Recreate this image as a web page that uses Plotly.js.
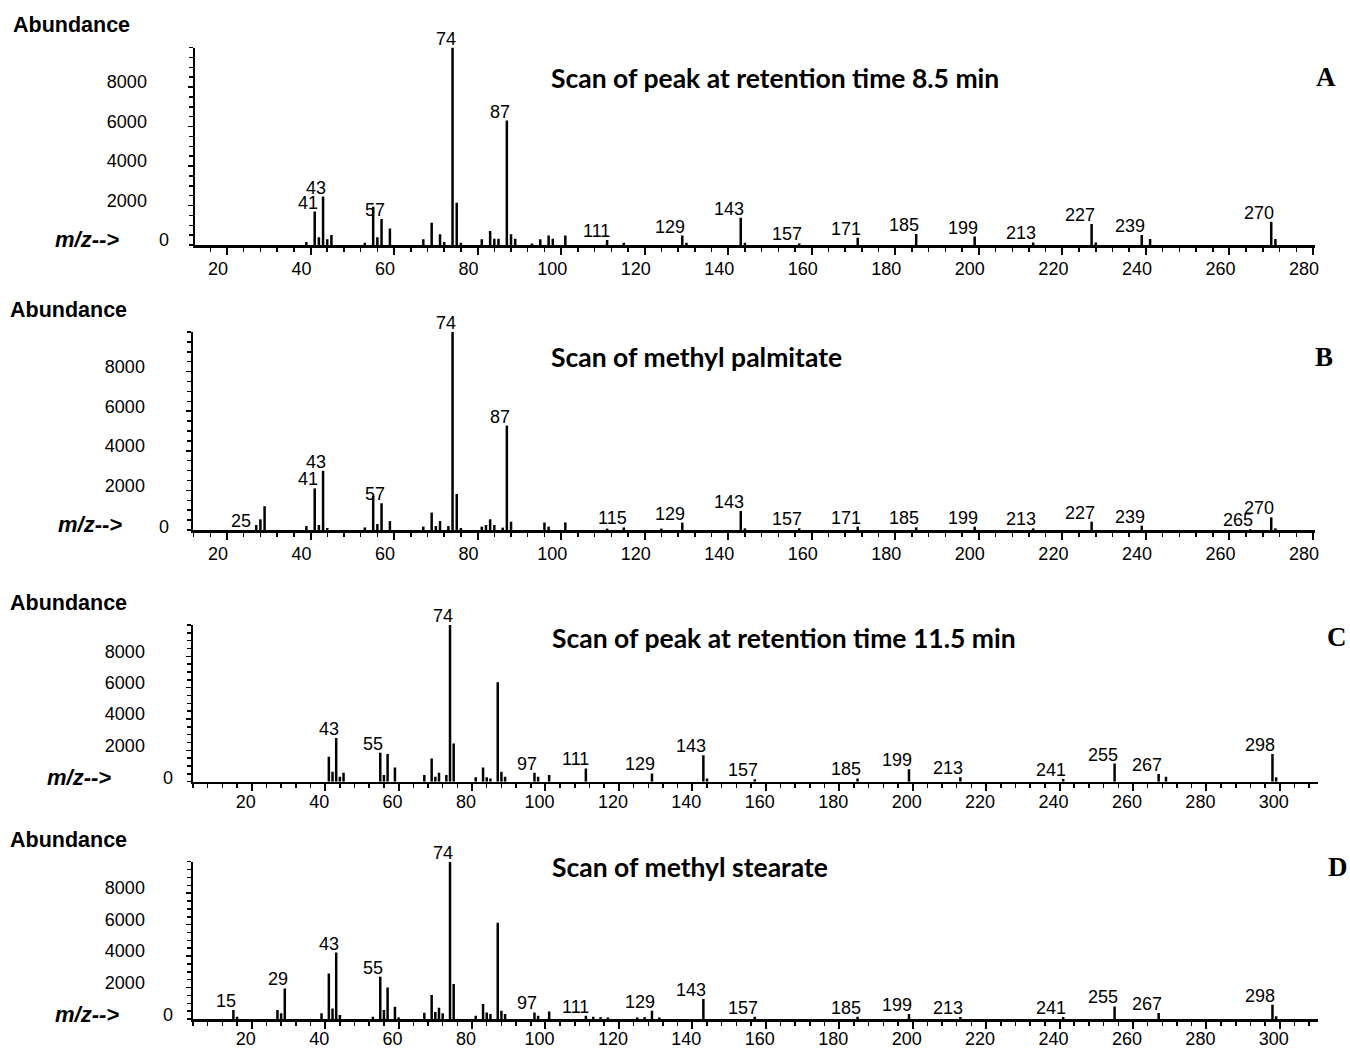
<!DOCTYPE html>
<html>
<head>
<meta charset="utf-8">
<script src="https://cdn.plot.ly/plotly-3.0.1.min.js"></script>
<style>
  html, body { margin: 0; padding: 0; background: #fff; }
  #chart { width: 1350px; height: 1048px; }
</style>
</head>
<body>
<div id="chart"></div>
<script>
// ---------------- DATA ----------------
// Panel A: scan of peak at retention time 8.5 min
const mzA = [39, 41, 42, 43, 44, 45, 53, 55, 56, 57, 59, 67, 69, 71, 72, 74, 75, 76, 81, 83, 84, 85, 87, 88, 89, 93, 95, 97, 98, 101, 111, 115, 129, 130, 143, 144, 157, 171, 185, 199, 213, 227, 228, 239, 241, 270, 271];
const abA = [150, 1690, 390, 2450, 290, 510, 120, 1940, 390, 1315, 840, 290, 1130, 540, 150, 10000, 2140, 120, 290, 710, 320, 320, 6300, 540, 320, 80, 290, 480, 320, 480, 250, 120, 480, 120, 1380, 120, 80, 370, 560, 430, 130, 1060, 130, 510, 300, 1180, 300];
const labelsA = [41, 43, 57, 74, 87, 111, 129, 143, 157, 171, 185, 199, 213, 227, 239, 270];

// Panel B: scan of methyl palmitate
const mzB = [27, 28, 29, 39, 41, 42, 43, 44, 53, 55, 56, 57, 59, 67, 69, 70, 71, 73, 74, 75, 76, 81, 82, 83, 84, 86, 87, 88, 96, 97, 101, 111, 115, 124, 129, 143, 144, 157, 171, 185, 199, 213, 227, 239, 265, 270, 271];
const abB = [250, 540, 1200, 200, 2100, 250, 2990, 100, 130, 1720, 300, 1350, 450, 170, 880, 200, 450, 200, 10000, 1820, 100, 170, 250, 540, 250, 120, 5270, 420, 380, 170, 380, 70, 130, 70, 370, 960, 85, 85, 170, 135, 170, 85, 420, 220, 40, 640, 85];
const labelsB = [25, 41, 43, 57, 74, 87, 115, 129, 143, 157, 171, 185, 199, 213, 227, 239, 265, 270];

// Panel C: scan of peak at retention time 11.5 min
const mzC = [41, 42, 43, 44, 45, 55, 56, 57, 59, 67, 69, 70, 71, 73, 74, 75, 81, 83, 84, 85, 87, 88, 89, 97, 98, 101, 111, 129, 143, 144, 157, 185, 199, 213, 241, 255, 267, 269, 298, 299];
const abC = [1590, 630, 2790, 320, 570, 1840, 420, 1760, 910, 420, 1480, 320, 570, 420, 10000, 2430, 280, 910, 280, 210, 6350, 630, 320, 570, 320, 420, 850, 530, 1690, 210, 150, 210, 800, 280, 170, 1160, 490, 320, 1760, 280];
const labelsC = [43, 55, 74, 97, 111, 129, 143, 157, 185, 199, 213, 241, 255, 267, 298];

// Panel D: scan of methyl stearate
const mzD = [15, 16, 27, 28, 29, 39, 41, 42, 43, 44, 53, 55, 56, 57, 59, 60, 67, 69, 70, 71, 72, 74, 75, 81, 83, 84, 85, 87, 88, 89, 97, 98, 101, 111, 113, 115, 117, 125, 127, 129, 131, 143, 157, 185, 199, 213, 241, 255, 267, 298, 299];
const abD = [570, 150, 570, 360, 1940, 360, 2890, 670, 4220, 250, 150, 2680, 570, 2000, 780, 100, 400, 1520, 450, 720, 360, 10000, 2220, 210, 950, 420, 320, 6120, 530, 320, 420, 210, 480, 210, 150, 120, 100, 100, 120, 530, 100, 1270, 150, 150, 320, 130, 130, 800, 380, 900, 170];
const labelsD = [15, 29, 43, 55, 74, 97, 111, 129, 143, 157, 185, 199, 213, 241, 255, 267, 298];

const yTickVals = [2000, 4000, 6000, 8000];
const titles = ["Scan of peak at retention time 8.5 min", "Scan of methyl palmitate", "Scan of peak at retention time 11.5 min", "Scan of methyl stearate"];
const letters = ["A", "B", "C", "D"];

// ---------------- LAYOUT GEOMETRY ----------------
const W = 1350, H = 1048;
const px = p => p / W;
const py = p => 1 - p / H;

const panels = [
  { mz: mzA, ab: abA, labels: labelsA, xPx: [195, 1315], xRange: [12.34, 280.48], yPx: [245, 47.5],
    titlePos: [549, 78], letterPos: [1326, 77], abundPos: [11, 25], mzPos: [53, 240], zeroPos: [164, 240], xShift: -9, xStand: -1 },
  { mz: mzB, ab: abB, labels: labelsB, xPx: [193, 1315], xRange: [11.86, 280.48], yPx: [530, 332],
    titlePos: [549, 357], letterPos: [1324, 357], abundPos: [8, 310], mzPos: [56, 524], zeroPos: [164, 527], xShift: -9, xStand: -1 },
  { mz: mzC, ab: abC, labels: labelsC, xPx: [193, 1318], xRange: [4.0, 310.4], yPx: [781.7, 625],
    titlePos: [550, 638], letterPos: [1337, 637], abundPos: [8, 603], mzPos: [45, 777], zeroPos: [168, 778], xShift: -6, xStand: -5 },
  { mz: mzD, ab: abD, labels: labelsD, xPx: [193, 1318], xRange: [4.0, 310.4], yPx: [1019, 861.7],
    titlePos: [550, 867], letterPos: [1338, 867], abundPos: [8, 840], mzPos: [53, 1014], zeroPos: [168, 1015], xShift: -6, xStand: -5 }
];

const sans = "Liberation Sans, Arial, Helvetica, sans-serif";
const data = [];
const annotations = [];
const layout = {
  width: W, height: H,
  margin: { l: 0, r: 0, t: 0, b: 0, pad: 0 },
  paper_bgcolor: "#ffffff", plot_bgcolor: "rgba(0,0,0,0)",
  showlegend: false, hovermode: false,
  font: { family: sans, color: "#000" },
  annotations: annotations
};

panels.forEach((p, i) => {
  const n = i === 0 ? "" : String(i + 1);
  const xa = "x" + n, ya = "y" + n;
  const barW = (p.xRange[1] - p.xRange[0]) > 290 ? 0.68 : 0.6;

  data.push({
    type: "bar", x: p.mz, y: p.ab, xaxis: xa, yaxis: ya,
    width: barW, marker: { color: "#000", line: { width: 0 } }
  });

  layout["xaxis" + n] = {
    domain: [px(p.xPx[0]), px(p.xPx[1])], range: p.xRange, anchor: ya,
    showline: true, linewidth: 2.5, linecolor: "#000", mirror: false,
    ticks: "outside", ticklen: 7, tickwidth: 2, tickcolor: "#000",
    tick0: 0, dtick: 20,
    minor: { dtick: 4, tick0: 0, ticks: "outside", ticklen: 4, tickwidth: 1.5, tickcolor: "#000", showgrid: false },
    showgrid: false, zeroline: false,
    tickfont: { family: sans, size: 18, color: "#000" },
    ticklabelshift: p.xShift, ticklabelstandoff: p.xStand,
    fixedrange: true
  };
  layout["yaxis" + n] = {
    domain: [py(p.yPx[0]), py(p.yPx[1])], range: [0, 10000], anchor: xa,
    showline: true, linewidth: 2.5, linecolor: "#000",
    ticks: "outside", ticklen: 5, tickwidth: 1.5, tickcolor: "#000",
    tickmode: "array", tickvals: yTickVals, ticktext: yTickVals.map(String),
    minor: { dtick: 500, tick0: 0, ticks: "outside", ticklen: 4, tickwidth: 1.5, tickcolor: "#000", showgrid: false },
    showgrid: false, zeroline: false,
    tickfont: { family: sans, size: 18, color: "#000" },
    ticklabelstandoff: 37, ticklabelshift: -5,
    fixedrange: true
  };

  // peak labels
  p.labels.forEach(m => {
    const k = p.mz.indexOf(m);
    const h = k >= 0 ? p.ab[k] : 0;
    annotations.push({
      xref: xa, yref: ya, x: m, y: h, text: String(m),
      xanchor: "right", yanchor: "bottom", xshift: 5, yshift: -3,
      showarrow: false, font: { family: sans, size: 18, color: "#000" }
    });
  });

  // panel texts
  annotations.push({
    xref: "paper", yref: "paper", x: px(p.titlePos[0]), y: py(p.titlePos[1]),
    xanchor: "left", yanchor: "middle", showarrow: false, text: titles[i],
    font: { family: "Lato, Open Sans, sans-serif", size: 26.5, weight: "bold", color: "#000" }
  });
  annotations.push({
    xref: "paper", yref: "paper", x: px(p.letterPos[0]), y: py(p.letterPos[1]),
    xanchor: "center", yanchor: "middle", showarrow: false, text: letters[i],
    font: { family: "Liberation Serif, Times New Roman, serif", size: 27, weight: "bold", color: "#000" }
  });
  annotations.push({
    xref: "paper", yref: "paper", x: px(p.abundPos[0]), y: py(p.abundPos[1]),
    xanchor: "left", yanchor: "middle", showarrow: false, text: "<b>Abundance</b>",
    font: { family: sans, size: 21.5, color: "#000" }
  });
  annotations.push({
    xref: "paper", yref: "paper", x: px(p.mzPos[0]), y: py(p.mzPos[1]),
    xanchor: "left", yanchor: "middle", showarrow: false, text: "<b><i>m/z--&gt;</i></b>",
    font: { family: sans, size: 22, color: "#000" }
  });
  annotations.push({
    xref: "paper", yref: "paper", x: px(p.zeroPos[0]), y: py(p.zeroPos[1]),
    xanchor: "center", yanchor: "middle", showarrow: false, text: "0",
    font: { family: sans, size: 18, color: "#000" }
  });
});

Plotly.newPlot("chart", data, layout, { staticPlot: true, displayModeBar: false });
</script>
</body>
</html>
